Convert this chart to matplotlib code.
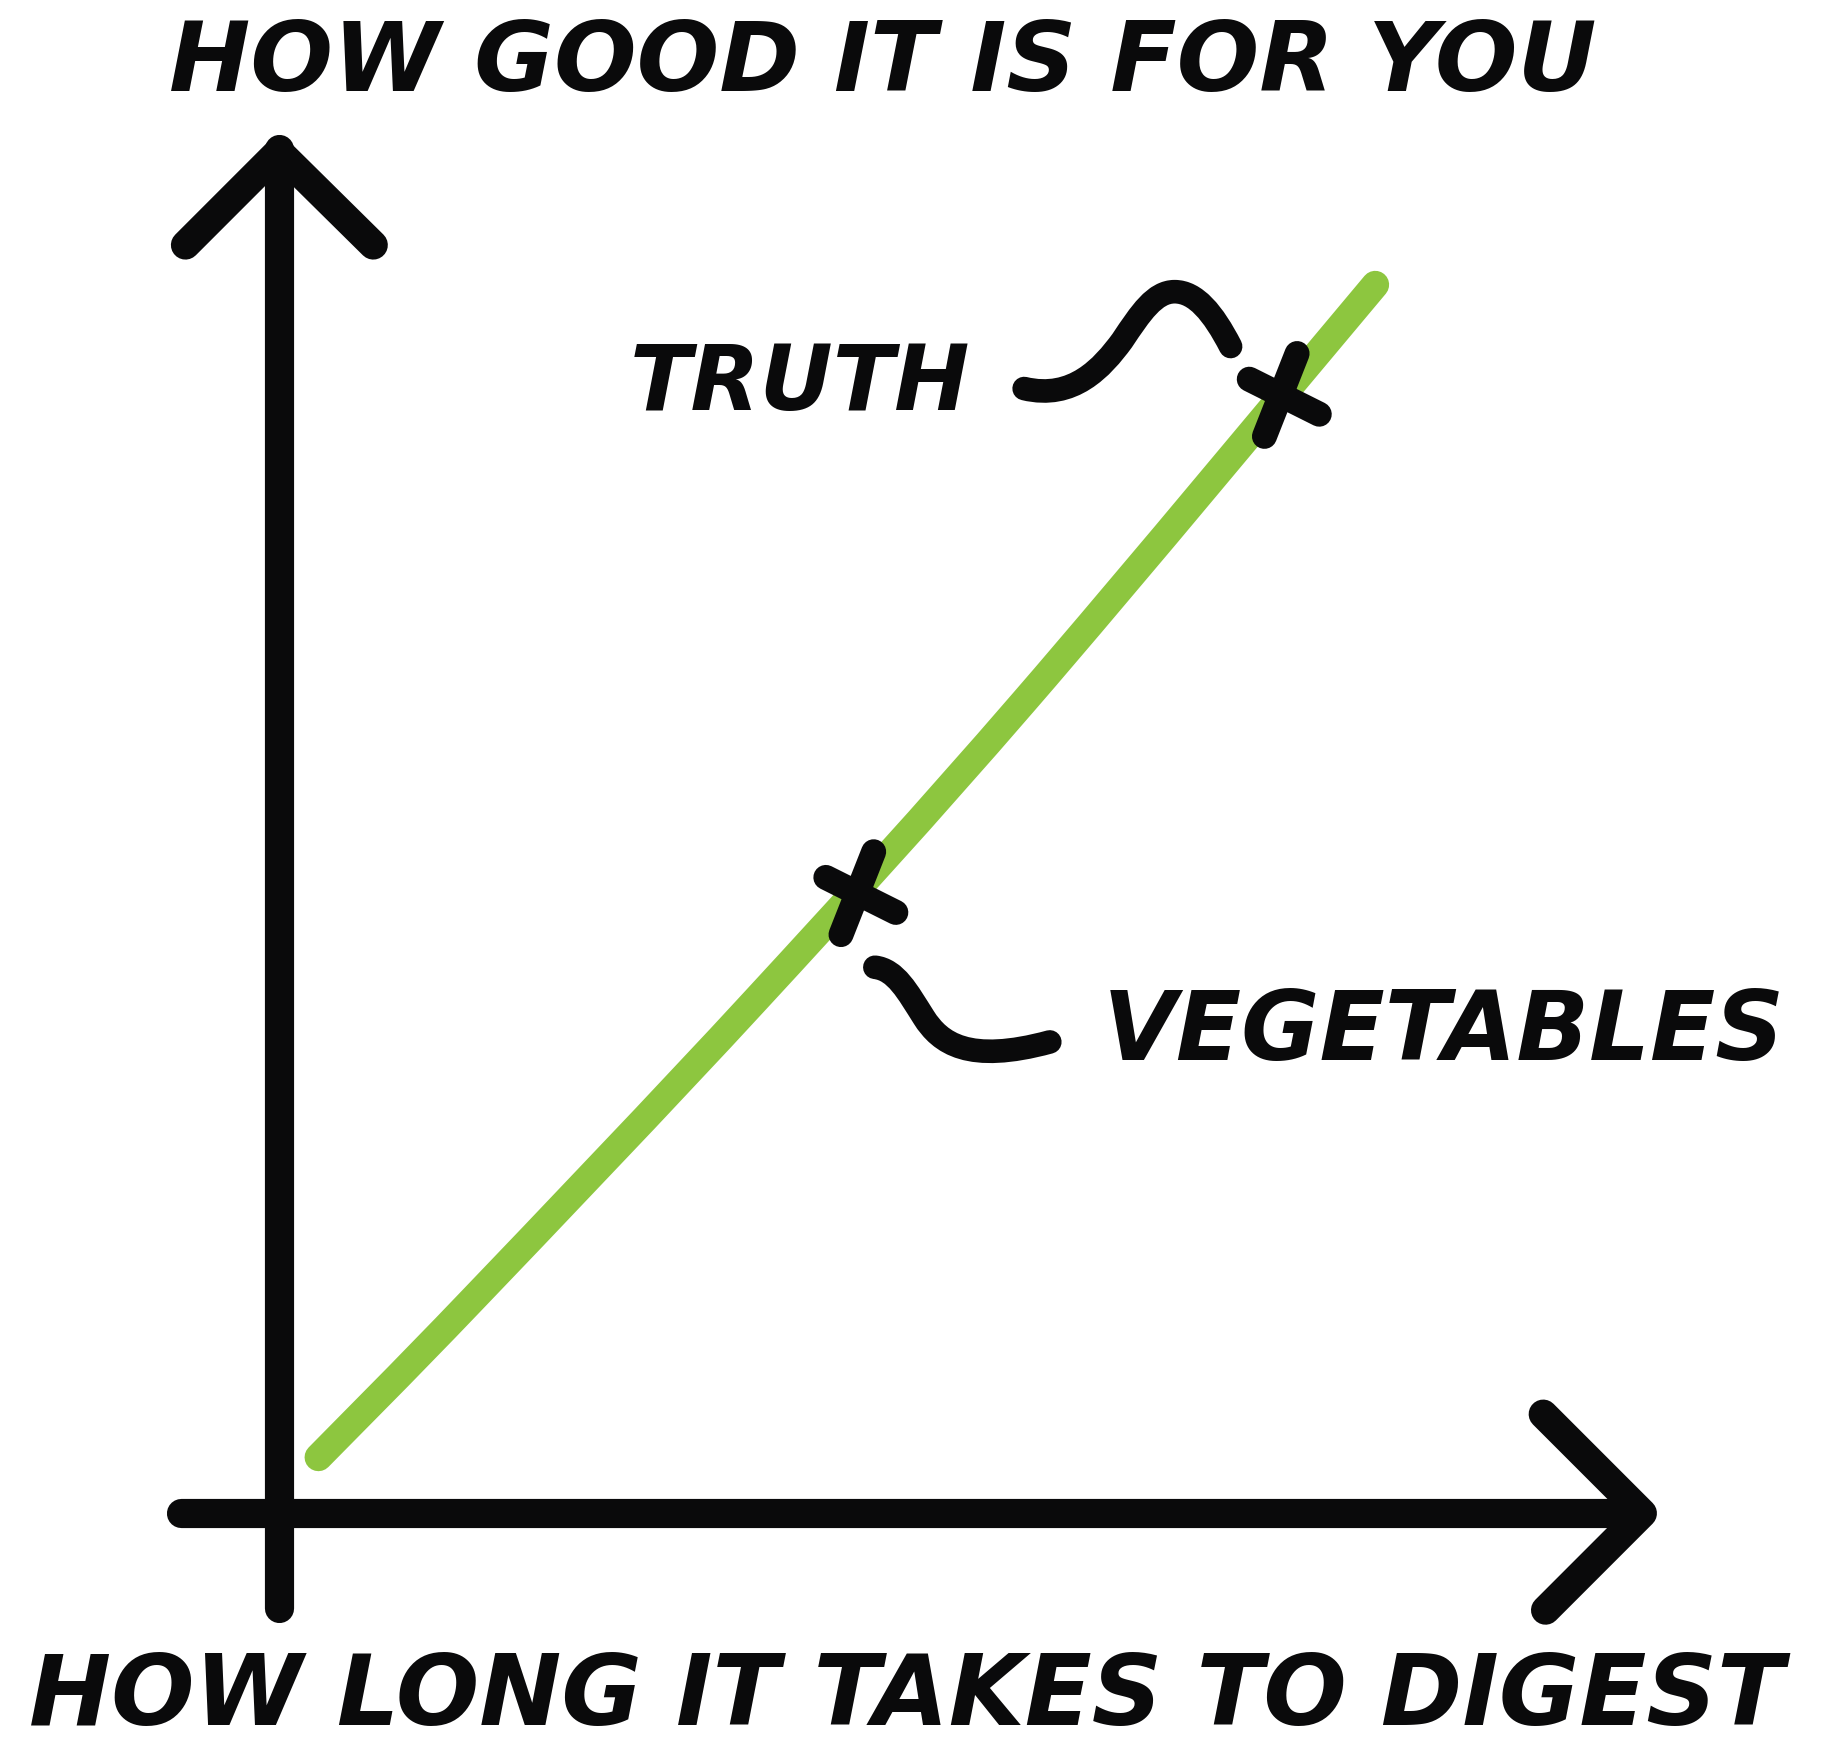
import matplotlib
matplotlib.use("Agg")
import matplotlib.pyplot as plt
from matplotlib.path import Path
from matplotlib.patches import PathPatch

# ---- data (x: how long it takes to digest, y: how good it is for you) ----
curve_x = [0.34, 1.66, 4.09, 6.40, 9.40]
curve_y = [0.48, 1.83, 4.40, 6.97, 10.53]

items = ["TRUTH", "VEGETABLES"]
item_x = [8.61, 4.98]
item_y = [9.60, 5.33]

x_label = "HOW LONG IT TAKES TO DIGEST"
y_label = "HOW GOOD IT IS FOR YOU"

# ---- layout (reference grid 1568 x 1511, origin at (239,1297), 100 px per unit)
W, H = 1568, 1511
OX, OY, S = 239, 1297, 100.0


def u(px, py):
    return ((px - OX) / S, (OY - py) / S)


fig = plt.figure(figsize=(18.29, 17.63), dpi=100)
ax = fig.add_axes([0, 0, 1, 1])
ax.set_xlim(-OX / S, (W - OX) / S)
ax.set_ylim((OY - H) / S, OY / S)
ax.axis("off")

BLACK = "#0a0a0b"
GREEN = "#8dc63f"
LW_AX = 21
LW_MARK = 18
LW_LEAD = 17


def poly(pts, lw, color=BLACK, z=3):
    xs, ys = zip(*[u(*p) for p in pts])
    ax.plot(xs, ys, color=color, lw=lw, solid_capstyle="round",
            solid_joinstyle="round", zorder=z)

# axes with arrows
poly([(239, 1378), (239, 128)], LW_AX)
poly([(159, 210), (239, 130), (320, 210)], LW_AX)
poly([(155, 1297), (1406, 1297)], LW_AX)
poly([(1323, 1212), (1408, 1297), (1325, 1380)], LW_AX)

# green curve: smooth (Catmull-Rom drawn as cubic Bezier) through the data points
P = list(zip(curve_x, curve_y))
verts = [P[0]]
codes = [Path.MOVETO]
for i in range(len(P) - 1):
    p0 = P[i - 1] if i > 0 else P[i]
    p1, p2 = P[i], P[i + 1]
    p3 = P[i + 2] if i + 2 < len(P) else P[i + 1]
    c1 = (p1[0] + (p2[0] - p0[0]) / 6, p1[1] + (p2[1] - p0[1]) / 6)
    c2 = (p2[0] - (p3[0] - p1[0]) / 6, p2[1] - (p3[1] - p1[1]) / 6)
    verts += [c1, c2, p2]
    codes += [Path.CURVE4] * 3
ax.add_patch(PathPatch(Path(verts, codes), fill=False, ec=GREEN, lw=20,
                       capstyle="round", joinstyle="round", zorder=2))

# crosses at the items
for cx, cy in zip(item_x, item_y):
    ax.plot([cx + 0.12, cx - 0.16], [cy + 0.34, cy - 0.37], color=BLACK,
            lw=LW_MARK, solid_capstyle="round", zorder=4)
    ax.plot([cx - 0.29, cx + 0.31], [cy + 0.12, cy - 0.18], color=BLACK,
            lw=LW_MARK, solid_capstyle="round", zorder=4)


# curly leaders (bezier)
def bez(pts):
    vv = [u(*p) for p in pts]
    cc = [Path.MOVETO] + [Path.CURVE4] * (len(vv) - 1)
    ax.add_patch(PathPatch(Path(vv, cc), fill=False, ec=BLACK, lw=LW_LEAD,
                           capstyle="round", joinstyle="round", zorder=4))

bez([(878, 333), (920, 343), (945, 315), (962, 292),
     (978, 268), (990, 250), (1007, 250),
     (1025, 250), (1040, 268), (1055, 297)])
bez([(750, 829), (768, 831), (778, 850), (792, 872),
     (806, 894), (830, 912), (900, 893)])

# texts, fitted to widths
fig.canvas.draw()
renderer = fig.canvas.get_renderer()
FAM = ["DejaVu Sans"]


def fit_text(s, left_px, right_px, cy_px, base=60):
    x0, y0 = u(left_px, cy_px)
    t = ax.text(x0, y0, s, fontsize=base, fontweight="bold", fontstyle="italic",
                family=FAM, color=BLACK, ha="left", va="center", zorder=5)
    bb = t.get_window_extent(renderer)
    target = (right_px - left_px) / W * fig.get_figwidth() * fig.dpi
    t.set_fontsize(base * target / bb.width)
    return t

fit_text(y_label, 145, 1370, 55)
fit_text(items[0], 540, 832, 330)
fit_text(items[1], 945, 1530, 886)
fit_text(x_label, 25, 1530, 1455)

fig.savefig("out.png", dpi=100)
